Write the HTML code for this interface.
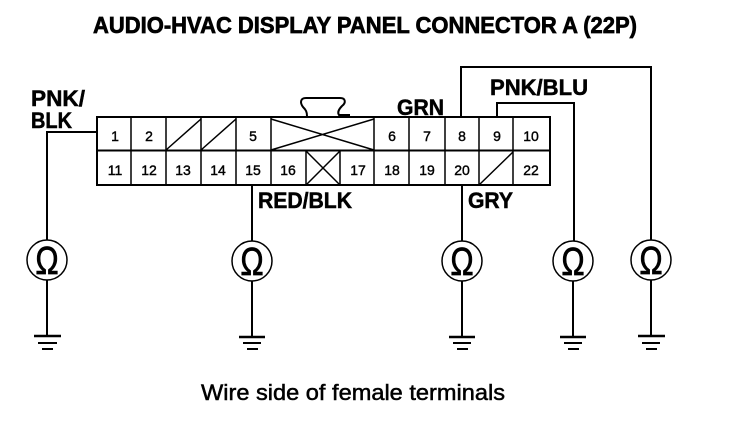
<!DOCTYPE html>
<html><head><meta charset="utf-8"><style>
html,body{margin:0;padding:0;background:#fff;width:736px;height:428px;overflow:hidden}
svg{display:block}
text{font-family:"Liberation Sans",sans-serif;fill:#000}
.b{font-weight:bold}
.l{font-weight:bold;font-size:22px;stroke:#000;stroke-width:.5}
.n{font-size:14px;text-anchor:middle;stroke:#000;stroke-width:.4}
.o{font-size:39px;text-anchor:middle;stroke:#000;stroke-width:.7}
</style></head><body>
<svg width="736" height="428" viewBox="0 0 736 428" xmlns="http://www.w3.org/2000/svg">
<rect width="736" height="428" fill="#fff"/>
<text class="b" x="93" y="33" font-size="23" textLength="544" lengthAdjust="spacingAndGlyphs" stroke="#000" stroke-width=".7">AUDIO-HVAC DISPLAY PANEL CONNECTOR A (22P)</text>

<g fill="none" stroke="#000" stroke-width="2">
<!-- connector -->
<rect x="97" y="117" width="453" height="68"/>
<path d="M97 150.500H550"/>
<path stroke-width="1.500" d="M131 117V185M166 117V185M201 117V185M236 117V185M271 117V185M306 151V185M340 151V185M374 117V185M409 117V185M445 117V185M479 117V185M513 117V185"/>
<path stroke-width="1.500" d="M166 150L201 119M201 150L236 119M271 119L374 150M271 150L374 119M306 151L340 185M306 185L340 151M479 185L513 152"/>
<!-- tab -->
<path d="M307 116C307 112 306 110 303 107C300 103 300 98 306 98H340C346 98 346 103 342 106C339 109 337 112 339 115H350"/>
<!-- wires -->
<path d="M97 132H47V240M47 280V336"/>
<path d="M252 185V241M252 281V337"/>
<path d="M462 185V241M462 281V337"/>
<path d="M497 117V103H574V241M573 281V337"/>
<path d="M461 117V67H651V240M651 280V336"/>
<!-- meters -->
<circle cx="47" cy="260" r="20" stroke-width="1.500"/>
<circle cx="252" cy="261" r="20" stroke-width="1.500"/>
<circle cx="462" cy="261" r="20" stroke-width="1.500"/>
<circle cx="573" cy="261" r="20" stroke-width="1.500"/>
<circle cx="651" cy="260" r="20" stroke-width="1.500"/>
<!-- grounds -->
<path stroke-width="2.500" d="M34 336H61M239 337H265M449 337H475M560 337H586M638 336H665"/>
<path d="M38 343H57M243 343H261M453 343H471M564 343H582M642 343H660"/>
<path d="M42 349H53M247 349H258M457 349H468M568 349H579M646 349H657"/>
</g>

<text class="l" x="31" y="106" textLength="54" lengthAdjust="spacingAndGlyphs">PNK/</text>
<text class="l" x="31" y="128" textLength="41" lengthAdjust="spacingAndGlyphs">BLK</text>
<text class="l" x="397" y="115" textLength="47" lengthAdjust="spacingAndGlyphs">GRN</text>
<text class="l" x="490" y="95" textLength="98" lengthAdjust="spacingAndGlyphs">PNK/BLU</text>
<text class="l" x="258" y="208" textLength="94" lengthAdjust="spacingAndGlyphs">RED/BLK</text>
<text class="l" x="468" y="208" textLength="45" lengthAdjust="spacingAndGlyphs">GRY</text>

<g>
<text class="n" x="115" y="141">1</text><text class="n" x="149" y="141">2</text><text class="n" x="253" y="141">5</text>
<text class="n" x="392" y="141">6</text><text class="n" x="427" y="141">7</text><text class="n" x="462" y="141">8</text><text class="n" x="497" y="141">9</text><text class="n" x="531" y="141">10</text>
<text class="n" x="115" y="175">11</text><text class="n" x="149" y="175">12</text><text class="n" x="183" y="175">13</text><text class="n" x="218" y="175">14</text><text class="n" x="253" y="175">15</text><text class="n" x="288" y="175">16</text>
<text class="n" x="358" y="175">17</text><text class="n" x="392" y="175">18</text><text class="n" x="427" y="175">19</text><text class="n" x="462" y="175">20</text><text class="n" x="531" y="175">22</text>
</g>

<text class="o" transform="translate(47 274) scale(.8 1)">Ω</text>
<text class="o" transform="translate(252 275) scale(.8 1)">Ω</text>
<text class="o" transform="translate(462 275) scale(.8 1)">Ω</text>
<text class="o" transform="translate(573 275) scale(.8 1)">Ω</text>
<text class="o" transform="translate(651 274) scale(.8 1)">Ω</text>

<text x="201" y="400" font-size="22" textLength="304" lengthAdjust="spacingAndGlyphs" stroke="#000" stroke-width=".5">Wire side of female terminals</text>
</svg>
</body></html>
